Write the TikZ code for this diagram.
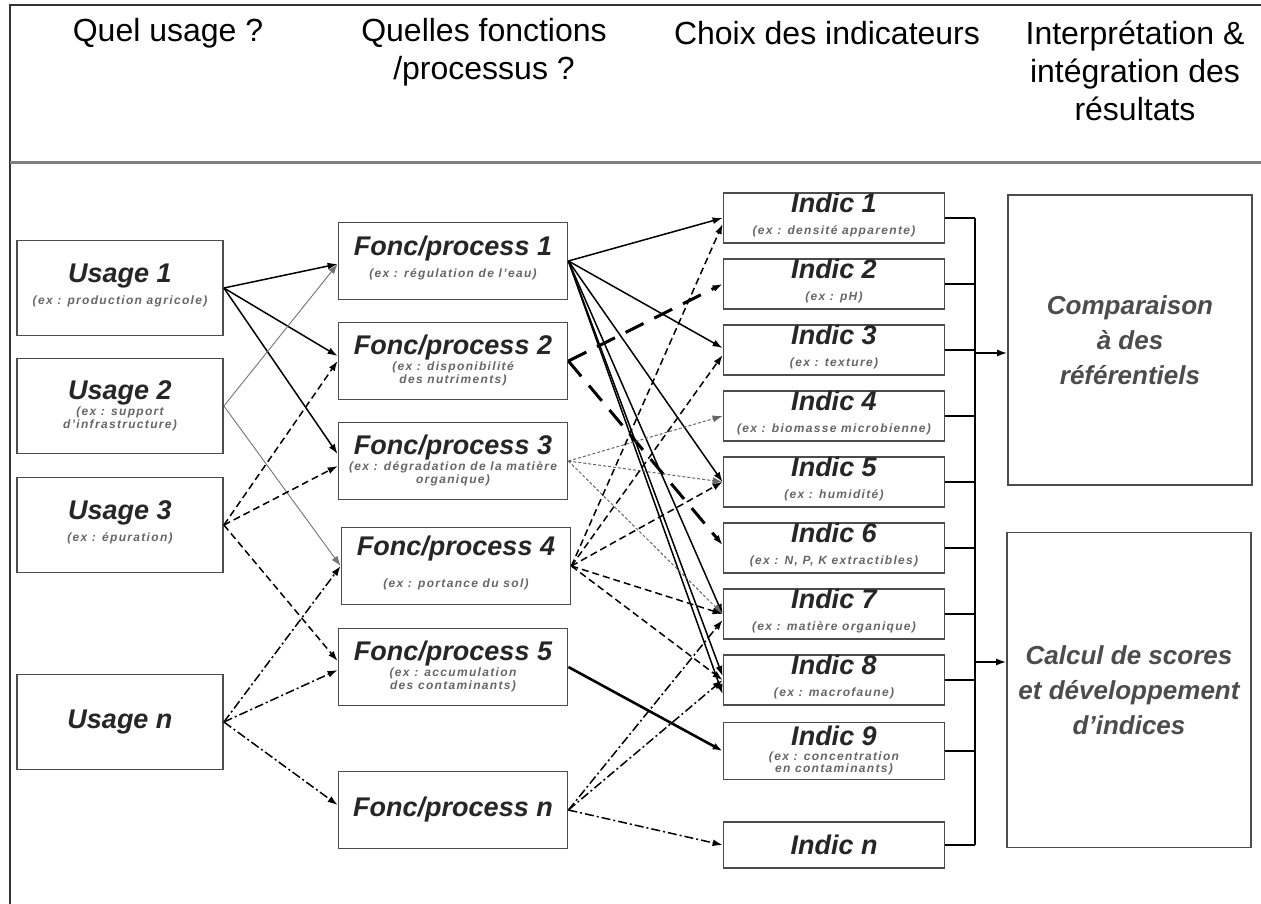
\documentclass[tikz,border=0pt]{standalone}
\usepackage{fontspec}
\setmainfont{Liberation Sans}
\usetikzlibrary{arrows.meta}
\newcommand\Exemple[1]{{\fontsize{12}{12.5}\selectfont\addfontfeatures{LetterSpace=11}\color{black!60}%
  \begin{tabular}{@{}c@{}}#1\end{tabular}}}
\newcommand\Boxtext[3][-5pt]{%
  \begin{tabular}{@{}c@{}}#2\\[#1]\Exemple{#3}\end{tabular}}

\begin{document}
\begin{tikzpicture}[x=1pt,y=-1pt,
box/.style={
  draw=black!70, line width=1.8pt, fill=white, inner sep=0pt,
  font=\fontsize{27}{28}\selectfont\bfseries\itshape,
  text=black!85, align=center
},
usage/.style={box, minimum width=206pt, minimum height=95pt},
fonc/.style={box, minimum width=229pt, minimum height=77pt},
indic/.style={box, minimum width=221pt, minimum height=46pt},
result/.style={box, minimum width=244pt, text=black!70,
  font=\fontsize{26}{35}\selectfont\bfseries\itshape},
entete/.style={align=center, font=\fontsize{32}{38}\selectfont},
fleche/.style={-{Latex[length=10pt,width=7pt]}, line width=1.5pt},
plein/.style={fleche},
fin/.style={fleche, black!55, line width=0.9pt},
tirets/.style={fleche, dash pattern=on 7pt off 4pt},
longtirets/.style={fleche, line width=3pt, dash pattern=on 20pt off 12pt},
mixte/.style={fleche, dash pattern=on 9pt off 3pt on 2pt off 3pt},
pointilles/.style={fleche, black!60, line width=1pt, dash pattern=on 3pt off 2pt},
epais/.style={fleche, line width=2.6pt}
]
\useasboundingbox (0,0) rectangle (1261,904);

% cadre et en-tetes
\draw[line width=2pt, black!80] (10,904) -- (10,5) -- (1261,5);
\draw[line width=3pt, black!50] (10,163) -- (1261,163);
\node[entete] (h1) at (168,33) {Quel usage ?};
\node[entete] (h2) at (484,52) {Quelles fonctions\\/processus ?};
\node[entete] (h3) at (827,33) {Choix des indicateurs};
\node[entete] (h4) at (1135,71) {Interprétation \&\\intégration des\\résultats};

% usages
\node[usage] (u1) at (120,288) {\Boxtext{Usage 1}{(ex : production agricole)}};
\node[usage] (u2) at (120,406) {\Boxtext{Usage 2}{(ex : support\\d'infrastructure)}};
\node[usage] (u3) at (120,525) {\Boxtext{Usage 3}{(ex : épuration)}};
\node[usage] (uN) at (120,722) {Usage n};

% fonctions / processus
\node[fonc] (f1) at (453,261) {\Boxtext{Fonc/process 1}{(ex : régulation de l'eau)}};
\node[fonc] (f2) at (453,361) {\Boxtext{Fonc/process 2}{(ex : disponibilité\\des nutriments)}};
\node[fonc] (f3) at (453,461) {\Boxtext{Fonc/process 3}{(ex : dégradation de la matière\\organique)}};
\node[fonc] (f4) at (456,566) {\Boxtext[5pt]{Fonc/process 4}{(ex : portance du sol)}};
\node[fonc] (f5) at (453,667) {\Boxtext{Fonc/process 5}{(ex : accumulation\\des contaminants)}};
\node[fonc] (fN) at (453,810) {Fonc/process n};

% indicateurs
\node[indic] (i1) at (834,218) {\Boxtext[-6pt]{Indic 1}{(ex : densité apparente)}};
\node[indic] (i2) at (834,284) {\Boxtext[-6pt]{Indic 2}{(ex : pH)}};
\node[indic] (i3) at (834,350) {\Boxtext[-6pt]{Indic 3}{(ex : texture)}};
\node[indic] (i4) at (834,416) {\Boxtext[-6pt]{Indic 4}{(ex : biomasse microbienne)}};
\node[indic] (i5) at (834,482) {\Boxtext[-6pt]{Indic 5}{(ex : humidité)}};
\node[indic] (i6) at (834,548) {\Boxtext[-6pt]{Indic 6}{(ex : N, P, K extractibles)}};
\node[indic] (i7) at (834,614) {\Boxtext[-6pt]{Indic 7}{(ex : matière organique)}};
\node[indic] (i8) at (834,680) {\Boxtext[-6pt]{Indic 8}{(ex : macrofaune)}};
\node[indic, minimum height=57pt] (i9) at (834,751) {\Boxtext[-6pt]{Indic 9}{(ex : concentration\\en contaminants)}};
\node[indic] (iN) at (834,845) {Indic n};

% interpretation
\node[result, minimum height=290pt] (r1) at (1130,340) {Comparaison\\à des\\référentiels};
\node[result, minimum height=315pt] (r2) at (1129,690) {Calcul de scores\\et développement\\d’indices};

% usages -> fonctions
\draw[plein] (u1.east) -- ([yshift=-3pt]f1.west);
\draw[plein] (u1.east) -- ([yshift=5pt]f2.west);
\draw[plein] (u1.east) -- ([yshift=7pt]f3.west);
\draw[fin] (u2.east) -- ([yshift=-3pt]f1.west);
\draw[fin] (u2.east) -- (f4.west);
\draw[tirets] (u3.east) -- (f2.west);
\draw[tirets] (u3.east) -- ([yshift=-5pt]f3.west);
\draw[tirets] (u3.east) -- ([yshift=6pt]f5.west);
\draw[mixte] (uN.east) -- (f4.west);
\draw[mixte] (uN.east) -- ([yshift=-3pt]f5.west);
\draw[mixte] (uN.east) -- ([yshift=5pt]fN.west);

% fonctions -> indicateurs
\draw[plein] (f1.east) -- (i1.west);
\draw[plein] (f1.east) -- ([yshift=2pt]i3.west);
\draw[plein] (f1.east) -- (i5.west);
\draw[plein] (f1.east) -- (i7.west);
\draw[plein] (f1.east) -- ([yshift=4pt]i8.west);
\draw[plein] (f1.east) -- ([yshift=-14pt]i8.west);
\draw[longtirets] (f2.east) -- (i2.west);
\draw[longtirets] (f2.east) -- ([yshift=3pt]i6.west);
\draw[pointilles] (f3.east) -- (i4.west);
\draw[pointilles] (f3.east) -- (i5.west);
\draw[pointilles] (f3.east) -- (i7.west);
\draw[tirets] (f4.east) -- ([yshift=-6pt]i1.west);
\draw[tirets] (f4.east) -- ([yshift=-5pt]i3.west);
\draw[tirets] (f4.east) -- (i5.west);
\draw[tirets] (f4.east) -- (i7.west);
\draw[tirets] (f4.east) -- (i8.west);
\draw[epais] (f5.east) -- (i9.west);
\draw[mixte] (fN.east) -- ([yshift=-6pt]i7.west);
\draw[mixte] (fN.east) -- (i8.west);
\draw[mixte] (fN.east) -- (iN.west);

% regroupement vers l'interpretation
\coordinate (bus1) at (975,218);
\coordinate (busN) at (975,845);
\draw[line width=1.8pt] (bus1) -- (busN);
\foreach \k in {1,...,9,N}
  \draw[line width=1.8pt] (i\k.east) -- (i\k.east -| bus1);
\coordinate (c1) at (975,353);
\coordinate (c2) at (975,662);
\draw[fleche] (c1) -- (c1 -| r1.west);
\draw[fleche] (c2) -- (c2 -| r2.west);
\end{tikzpicture}
\end{document}
